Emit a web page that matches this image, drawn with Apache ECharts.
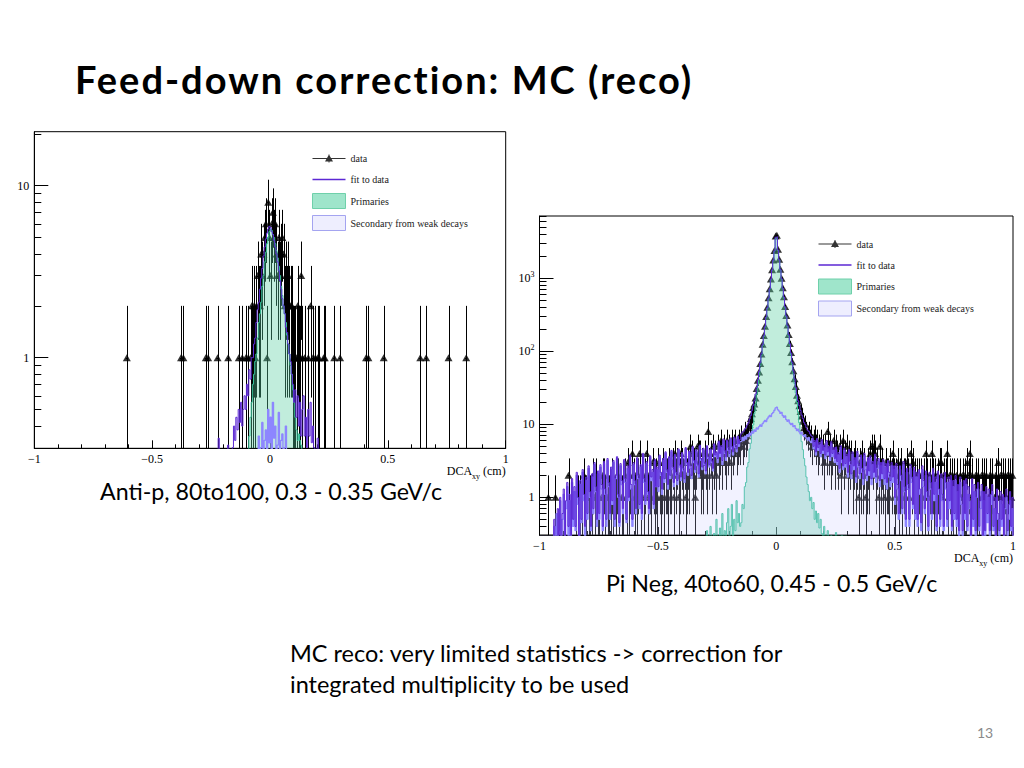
<!DOCTYPE html>
<html><head><meta charset="utf-8">
<script src="https://cdn.jsdelivr.net/npm/echarts@6/dist/echarts.min.js"></script>
<style>
html,body{margin:0;padding:0;background:#fff;width:1024px;height:768px;overflow:hidden;}
#chart{position:absolute;left:0;top:0;width:1024px;height:768px;}
.t{position:absolute;white-space:nowrap;font-family:Lato,'Open Sans',sans-serif;color:#000;}
</style></head><body>
<div id="chart"></div>
<div class="t" style="left:75px;top:60px;font-size:38px;line-height:38px;font-weight:bold;letter-spacing:2px;">Feed-down correction: MC (reco)</div>
<div class="t" style="left:100px;top:480px;font-size:23.2px;line-height:23px;">Anti-p, 80to100, 0.3 - 0.35 GeV/c</div>
<div class="t" style="left:606px;top:572px;font-size:23.2px;line-height:23px;">Pi Neg, 40to60, 0.45 - 0.5 GeV/c</div>
<div class="t" style="left:290px;top:642px;font-size:23.5px;line-height:23px;">MC reco: very limited statistics -&gt; correction for</div>
<div class="t" style="left:290px;top:673px;font-size:23.5px;line-height:23px;">integrated multiplicity to be used</div>
<div class="t" style="left:977px;top:726px;font-size:14px;line-height:14px;color:#8a8a8a;">13</div>
<script>
// ---------------- data ----------------
const BIN = 0.005;
const xTickValues = [-1, -0.5, 0, 0.5, 1];
const legendNames = ['data', 'fit to data', 'Primaries', 'Secondary from weak decays'];

// Left panel: Anti-p
const leftYLabelValues = [1, 10];
const leftYMinorValues = [0.4,0.5,0.6,0.7,0.8,0.9,2,3,4,5,6,7,8,9,20];
const leftDataX = [-0.6075,-0.3775,-0.3675,-0.2725,-0.2625,-0.2225,-0.1775,-0.1325,-0.1175,-0.1025,
  -0.0925,-0.0825,-0.0775,-0.0725,-0.0675,-0.0625,-0.0575,-0.0525,-0.0475,-0.0425,
  -0.0375,-0.0325,-0.0275,-0.0225,-0.0175,-0.0125,-0.0075,-0.0025,0.0025,0.0075,
  0.0125,0.0175,0.0225,0.0275,0.0325,0.0375,0.0425,0.0475,0.0525,0.0575,
  0.0625,0.0675,0.0725,0.0775,0.0825,0.0875,0.0925,0.0975,0.1025,0.1075,
  0.1125,0.1175,0.1225,0.1275,0.1325,0.1375,0.1475,0.1625,0.1725,0.1825,
  0.1925,0.2025,0.2075,0.2275,0.2325,0.2725,0.2975,0.4075,0.4175,0.4825,
  0.6375,0.6625,0.7575,0.8325];
const leftDataN = [1,1,1,1,1,1,1,1,1,1,
  1,1,2,1,2,1,2,3,2,2,
  4,3,4,5,6,1,8,5,3,6,
  7,5,6,4,3,5,3,4,5,4,
  2,3,2,3,2,2,2,1,1,1,
  1,2,1,1,3,1,1,1,2,1,
  1,1,1,1,1,1,1,1,1,1,
  1,1,1,1];
const leftPrimStart = -0.0875;
const leftPrim = [0.35,0.45,0.55,0.7,0.8,0.95,1.05,1.3,1.6,1.8,
  2.1,2.6,3.0,3.6,4.1,4.6,5.0,5.4,5.6,5.5,
  5.2,5.0,4.6,4.2,3.8,3.4,3.0,2.6,2.3,2.0,
  1.8,1.6,1.35,1.2,1.05,0.9,0.8,0.65,0.55,0.45,
  0.38,0.33,0.36,0.33,0.31];
const leftSecStart = -0.0475;
const leftSec = [0.35,0,0.3,0.42,0,0.33,0.38,0,0.5,0.32,
  0.45,0,0.55,0.34,0.4,0,0.31,0.48,0,0.33,
  0.36,0,0.3,0.4];
const leftFitStart = -0.2275;
const leftFit = [0,0,0.34,0,0,0,0,0,0,0,
  0.31,0,0,0,0.3,0.4,0.33,0.45,0.38,0.5,
  0.42,0.55,0.4,0.5,0.6,0.5,0.7,0.6,0.85,0.75,
  1.0,1.0,1.2,1.3,1.6,1.9,2.1,2.5,2.9,3.3,
  3.9,4.4,4.9,5.3,5.6,5.8,5.7,5.4,5.2,4.8,
  4.4,4.0,3.6,3.2,2.8,2.5,2.2,2.0,1.8,1.5,
  1.4,1.2,1.05,0.95,0.8,0.7,0.55,0.65,0.45,0.6,
  0.4,0.55,0.35,0.5,0.6,0.35,0.45,0.3,0.5,0.35,
  0.55,0.32,0.4,0.3,0,0,0.34,0,0];

// Right panel: Pi Neg
const rightYLabelValues = [1, 10, 100, 1000];
const rightYMinorValues = [0.4,0.5,0.6,0.7,0.8,0.9,2,3,4,5,6,7,8,9,20,30,40,50,60,70,80,90,
  200,300,400,500,600,700,800,900,2000,3000,4000,5000,6000,7000];
const rightDataStart = -0.9975;
const rightData = [
  0,0,0,0,0,0,0,1,0,0, 0,0,0,1,0,0,0,0,0,0, 0,0,0,0,2,0,0,0,0,0, 1,0,1,0,1,1,0,2,1,1, 0,1,1,0,1,2,1,2,0,1,
  1,0,1,2,2,1,0,1,1,0, 1,2,1,0,1,2,2,1,0,1, 1,0,2,1,3,1,2,0,4,2, 1,2,1,2,4,1,2,0,1,2, 4,1,2,2,1,3,2,1,2,1,
  3,2,1,2,3,1,2,2,1,3, 2,2,3,1,4,2,3,1,2,4, 3,2,3,1,2,3,2,5,4,2, 3,1,3,5,4,4,2,3,2,4, 3,2,8,3,4,2,5,3,4,2,
  5,3,4,6,3,5,4,3,6,4, 5,3,6,4,5,6,4,5,6,5, 7,5,6,8,6,7,9,10,12,14, 17,19,23,31,40,52,68,92,125,165, 220,300,400,540,720,980,1310,1780,2400,3800,
  3900,2500,1820,1330,1000,740,560,410,310,230, 170,128,96,72,54,42,33,25,21,18, 15,13,11,9,10,8,7,8,6,7, 5,6,7,5,6,4,5,6,4,5, 3,5,4,8,4,5,3,4,6,3,
  5,4,3,5,2,4,6,3,4,5, 2,4,3,4,2,3,4,2,3,1, 3,2,4,2,3,1,2,3,2,4, 5,3,5,4,2,3,1,5,2,3, 2,1,3,2,2,1,3,2,4,2,
  1,2,3,1,2,3,1,2,2,1, 3,2,1,4,2,3,1,2,2,1, 2,0,2,1,2,1,4,2,1,2, 1,4,2,1,2,1,2,1,3,3, 1,2,0,2,4,1,2,1,2,1,
  2,1,2,1,0,2,1,2,1,2, 1,3,2,4,1,2,0,1,2,1, 2,1,0,2,1,2,1,2,0,1, 2,1,2,0,1,2,1,3,1,2, 0,2,1,2,1,2,1,2,1,2];
const rightPrimStart = -0.2975;
const rightPrim = [
  0,0.35,0,0,0.4,0,0,0.32,0,0.5, 0,0,0.38,0,0.6,0,0.35,0,0.45,0.7, 0,0.4,0.8,0,0.5,0.35,0.9,0.45,0.6,0.4,
  0.45,0.8,0.7,1.4,1.6,2.6,3.0,4.6,5.5,7.5, 9.8,14,19,26,35,47,64,87,118,158, 213,288,388,525,705,955,1280,1740,2350,3500,
  3600,2400,1780,1300,970,720,535,395,295,218, 160,120,89,66,49,36,27,20,14.5,10.5, 7.8,5.8,4.5,3.4,2.7,1.9,1.5,1.2,0.9,1.0,
  0.7,0.85,0.5,0.65,0.45,0.6,0.38,0.5,0.32,0, 0.4,0,0,0.35,0,0,0.3,0,0,0, 0.33,0,0,0,0,0.3,0,0,0,0];
const rightSecStart = -0.9975;
const rightSec = [
  0,0,0,0,0,0,0,0,0,0, 0,0,0.4,0,0.6,0,0.35,0.9,0,0.5, 1.1,0,0.7,1.4,0.3,0.9,0,1.6,0.4,1.2, 0.35,2.0,0.8,0,1.5,0.45,2.2,0.9,0.3,1.7, 0.5,2.5,1.0,0.35,1.9,0.6,2.8,1.2,0.4,2.1,
  0.5,2.6,1.3,0.35,2.9,1.1,0.4,3.2,1.4,0.5, 2.4,0.8,3.0,0.4,1.8,3.4,1.0,0.4,2.7,1.5, 0.6,3.1,1.6,0.45,2.5,0.9,3.6,1.3,0.4,2.8, 1.5,0.6,3.3,1.8,0.7,2.6,0.5,3.8,1.6,0.8, 2.9,1.1,0.6,3.5,1.7,2.2,0.7,3.1,1.4,2.4,
  1.2,3.6,2.0,1.1,3.2,1.6,4.0,2.2,1.3,3.4, 1.8,4.2,2.4,1.4,3.7,2.0,1.5,4.4,2.6,1.7, 3.9,2.3,1.6,4.6,2.8,2.0,4.1,2.5,1.8,4.8, 3.0,2.2,4.3,2.7,1.9,5.0,3.2,2.4,4.5,2.8, 2.1,4.9,3.4,2.6,4.4,3.0,2.3,5.2,3.6,4.0,
  3.0,5.6,3.6,4.8,2.8,6.0,4.0,3.2,5.8,4.4, 3.6,6.2,4.6,3.8,6.4,4.8,4.2,6.6,5.0,5.8, 5.9,6.6,6.0,6.9,6.3,7.2,6.8,7.6,7.1,8.0, 7.6,8.4,8.0,8.9,8.6,9.3,9.8,9.4,10.2,10.8, 11.3,10.9,11.9,12.6,13.2,12.8,14.0,14.6,15.6,16.8,
  17.2,15.8,15.2,14.1,14.6,13.2,12.5,13.0,11.6,11.0, 11.5,10.4,9.9,10.3,9.3,9.6,8.8,8.2,8.6,7.9, 7.4,7.8,7.1,6.8,7.2,6.5,6.1,6.6,5.9,5.6, 6.4,4.6,5.6,3.8,6.0,4.4,5.2,3.6,5.8,4.0, 4.8,3.4,5.6,3.8,4.6,3.2,5.4,3.6,4.4,3.0,
  4.6,2.8,3.8,2.2,4.8,3.0,2.4,4.4,2.6,3.6, 1.9,4.2,2.8,1.8,3.9,2.4,3.2,1.6,4.0,2.6, 1.8,3.5,2.2,1.5,3.7,2.4,1.7,3.2,2.0,3.4, 1.5,2.8,1.9,3.6,1.6,2.5,3.1,1.4,2.7,1.8, 3.0,1.5,2.6,1.3,2.9,1.9,1.4,2.7,1.6,2.4,
  0.8,2.6,1.3,0.5,2.4,1.7,0.6,2.8,1.2,0.4, 2.2,1.3,0.4,2.5,1.6,0.7,2.3,0.5,1.9,0.4, 2.1,1.1,0.35,2.4,1.4,0.6,2.0,1.0,0.35,1.9, 1.3,0.5,2.2,0.9,1.6,0.35,2.0,1.1,0.4,1.8, 0.9,0.35,1.9,1.3,0.4,1.6,0.7,1.7,0.35,1.4,
  0.5,1.7,0.4,1.2,0,1.6,0.8,0,1.4,0.5, 1.5,0.35,1.1,0.7,0,1.5,0.4,1.2,0,1.0, 1.3,0.35,0.7,1.2,0,0.9,0,1.1,0.45,1.0, 0,0.8,1.2,0.35,0.7,0,1.0,0.5,0,0.9, 0.4,0.8,0,0.7,1.0,0,0.5,0.9,0.35,0.7];
const rightFitStart = -0.9975;
const rightFit = [
  0,0,0,0,0,0,0,0,0,0, 0,0,0.5,0,0,0.7,0,1.0,0,0.6, 1.3,0,0.9,1.6,0.4,1.1,0,1.8,0.5,1.4, 0.4,2.2,1.0,0,1.7,0.5,2.4,1.1,0.4,1.9, 0.6,2.7,1.2,0.4,2.1,0.7,3.0,1.4,0.5,2.3,
  0.6,2.8,1.5,0.4,3.1,1.3,0.5,3.4,1.6,0.6, 2.6,0.9,3.2,0.5,2.0,3.6,1.1,0.45,2.9,1.7, 0.7,3.3,1.8,0.5,2.7,1.0,3.8,1.5,0.5,3.0, 1.7,0.7,3.5,2.0,0.8,2.8,0.6,4.0,1.8,0.9, 3.1,1.2,0.7,3.7,1.9,2.4,0.8,3.3,1.4,2.6,
  1.4,3.8,2.2,1.3,3.4,1.8,4.2,2.4,1.5,3.6, 2.0,4.4,2.6,1.6,3.9,2.2,1.7,4.6,2.8,1.9, 4.1,2.5,1.8,4.8,3.0,2.2,4.3,2.7,2.0,5.0, 3.2,2.4,4.5,2.9,2.1,5.2,3.4,2.6,4.7,3.0, 2.3,5.1,3.6,2.8,4.6,3.2,2.5,5.4,3.8,4.2,
  3.4,5.9,4.0,5.1,3.2,6.3,4.4,3.6,6.1,4.8, 4.0,6.5,5.0,4.2,6.7,5.2,4.6,6.9,5.4,6.2, 7.4,7.9,8.0,8.6,9.0,9.8,10.5,11.8,13.2,15.4, 18,21,26,32,41,53,70,93,124,165, 220,296,398,535,718,975,1300,1770,2380,3650,
  3700,2450,1800,1320,990,735,555,408,306,228, 170,127,95,71,54,42,32,25,21,18, 15.5,13.4,12.0,10.6,9.9,9.0,8.3,8.0,7.4,7.0, 6.8,5.0,6.0,4.2,6.4,4.8,5.6,4.0,6.2,4.4, 5.2,3.8,6.0,4.2,5.0,3.6,5.8,4.0,4.8,3.4,
  4.9,3.1,4.1,2.5,5.1,3.3,2.7,4.7,2.9,3.9, 2.2,4.5,3.1,2.1,4.2,2.7,3.5,1.9,4.3,2.9, 2.1,3.8,2.5,1.8,4.0,2.7,2.0,3.5,2.3,3.7, 1.8,3.1,2.2,3.9,1.9,2.8,3.4,1.7,3.0,2.1, 3.3,1.8,2.9,1.6,3.2,2.2,1.7,3.0,1.9,2.7,
  1.0,2.9,1.5,0.6,2.7,2.0,0.7,3.1,1.4,0.5, 2.5,1.5,0.5,2.8,1.9,0.8,2.6,0.6,2.2,0.5, 2.4,1.3,0.45,2.7,1.7,0.7,2.3,1.2,0.4,2.2, 1.6,0.6,2.5,1.1,1.9,0.4,2.3,1.3,0.5,2.1, 1.1,0.4,2.2,1.6,0.5,1.9,0.9,2.0,0.4,1.7,
  0.6,2.0,0.5,1.5,0.35,1.9,1.0,0.35,1.7,0.6, 1.8,0.4,1.4,0.9,0,1.8,0.5,1.5,0.35,1.3, 1.6,0.4,0.9,1.5,0,1.2,0.35,1.4,0.6,1.3, 0.35,1.1,1.5,0.4,1.0,0,1.3,0.6,0.35,1.2, 0.5,1.1,0,1.0,1.3,0.35,0.8,1.2,0.4,1.0];

// ---------------- builders ----------------
const FLOOR = 1e-3; // empty bins drawn below the log-axis minimum (clipped)
function histLine(start, vals) {
  const e0 = start - BIN / 2;
  const pts = [[e0, FLOOR]];
  vals.forEach((v, i) => pts.push([e0 + i * BIN, v > 0 ? v : FLOOR]));
  const last = vals[vals.length - 1];
  pts.push([e0 + vals.length * BIN, last > 0 ? last : FLOOR]);
  pts.push([e0 + vals.length * BIN, FLOOR]);
  return pts;
}
function pairs(xs, ns) { return xs.map((x, i) => [x, ns[i]]).filter(p => p[1] > 0); }
function binned(start, ns) { return ns.map((n, i) => [start + i * BIN, n]).filter(p => p[1] > 0); }

const SERIF = "'Liberation Serif','DejaVu Serif',serif";
const C_PRIM_LINE = '#35c197', C_PRIM_FILL = 'rgba(89,208,160,0.53)';
const C_SEC_LINE = '#8d86ff', C_SEC_FILL = 'rgba(200,200,255,0.35)';
const C_FIT = '#5c28d4';

function panelSeries(gi, pts, ymin, prim, sec, fit) {
  const xi = gi, yi = gi * 2;
  return [
    { type: 'custom', name: 'err' + gi, xAxisIndex: xi, yAxisIndex: yi, z: 2, silent: true, clip: true,
      data: pts, encode: { x: 0, y: 1 },
      renderItem(params, api) {
        const x = api.value(0), n = api.value(1), e = Math.sqrt(n);
        const lo = Math.max(n - e, ymin), hi = n + e;
        const a = api.coord([x, hi]), b = api.coord([x, lo]);
        const l = api.coord([x - BIN / 2, n]), r = api.coord([x + BIN / 2, n]);
        const sx = Math.round(a[0]) + 0.5, sy = Math.round(l[1]) + 0.5;
        return { type: 'group', children: [
          { type: 'line', shape: { x1: sx, y1: a[1], x2: sx, y2: b[1] }, style: { stroke: '#000', lineWidth: 1 } },
          { type: 'line', shape: { x1: l[0] - 0.5, y1: sy, x2: r[0] + 0.5, y2: sy }, style: { stroke: '#000', lineWidth: 1 } }
        ]};
      } },
    { type: 'scatter', name: 'data', xAxisIndex: xi, yAxisIndex: yi, z: 2, silent: true,
      symbol: 'triangle', symbolSize: [8, 7], itemStyle: { color: '#000' }, data: pts },
    { type: 'line', name: 'Primaries', xAxisIndex: xi, yAxisIndex: yi, z: 3, silent: true, step: 'end',
      symbol: 'none', showSymbol: false, clip: true, data: histLine(prim[0], prim[1]),
      lineStyle: { color: C_PRIM_LINE, width: 1 }, areaStyle: { color: C_PRIM_FILL, origin: 'start' } },
    { type: 'line', name: 'Secondary from weak decays', xAxisIndex: xi, yAxisIndex: yi, z: 4, silent: true, step: 'end',
      symbol: 'none', showSymbol: false, clip: true, data: histLine(sec[0], sec[1]),
      lineStyle: { color: C_SEC_LINE, width: 1.3 }, areaStyle: { color: C_SEC_FILL, origin: 'start' } },
    { type: 'line', name: 'fit to data', xAxisIndex: xi, yAxisIndex: yi, z: 5, silent: true, step: 'end',
      symbol: 'none', showSymbol: false, clip: true, data: histLine(fit[0], fit[1]),
      lineStyle: { color: C_FIT, width: 1 } }
  ];
}

function xAxisCfg(gi) {
  return { gridIndex: gi, type: 'value', min: -1, max: 1, interval: 0.5,
    axisLine: { show: true, onZero: false, lineStyle: { color: '#000', width: 1 } },
    axisTick: { show: true, inside: true, length: 8, lineStyle: { color: '#000' } },
    minorTick: { show: true, splitNumber: 5, length: 4, lineStyle: { color: '#000' } },
    splitLine: { show: false }, minorSplitLine: { show: false },
    axisLabel: { fontFamily: SERIF, fontSize: 12, color: '#000', margin: 5,
      formatter: v => xTickValues.indexOf(v) < 0 ? '' : (v < 0 ? '\u2212' + (-v) : String(v)) },
    name: 'DCA{sub|xy} (cm)', nameLocation: 'end', nameGap: 0, nameMoveOverlap: false,
    nameTextStyle: { fontFamily: SERIF, fontSize: 12, color: '#000', align: 'right', verticalAlign: 'top',
      padding: [14, 0, 0, 0],
      rich: { sub: { fontFamily: SERIF, fontSize: 8, verticalAlign: 'bottom', lineHeight: 18 } } }
  };
}
function yAxesCfg(gi, ymin, ymax, labelVals, minorVals) {
  const base = { gridIndex: gi, type: 'log', logBase: 10, min: ymin, max: ymax, position: 'left', offset: 0,
    splitLine: { show: false }, minorTick: { show: false }, minorSplitLine: { show: false } };
  return [
    Object.assign({}, base, {
      axisLine: { show: true, onZero: false, lineStyle: { color: '#000', width: 1 } },
      axisTick: { show: true, inside: true, length: 14, customValues: labelVals, lineStyle: { color: '#000' } },
      axisLabel: { show: true, customValues: labelVals, fontFamily: SERIF, fontSize: 12, color: '#000', margin: 5,
        formatter: v => { const p = Math.round(Math.log10(v)); return p <= 1 ? String(Math.round(v)) : '10{sup|' + p + '}'; },
        rich: { sup: { fontFamily: SERIF, fontSize: 8, verticalAlign: 'top', lineHeight: 16 } } }
    }),
    Object.assign({}, base, {
      axisLine: { show: false, onZero: false },
      axisTick: { show: true, inside: true, length: 7, customValues: minorVals, lineStyle: { color: '#000' } },
      axisLabel: { show: false }
    })
  ];
}

function icon(kind) {
  const corners = 'M0 0h0.01v0.01H0Z M32.99 14.99h0.01v0.01h-0.01Z ';
  if (kind === 'data') return 'path://' + corners + 'M0 7H33V8H0Z M16 3.5H17V11.5H16Z M12.5 10.5L16.5 3.5L20.5 10.5Z';
  return 'path://' + corners + 'M0 6.7H33V8.3H0Z';
}
function legendCfg(left, top) {
  return { left: left, top: top, orient: 'vertical', padding: 0, itemWidth: 33, itemHeight: 15, itemGap: 6,
    selectedMode: false, textStyle: { fontFamily: SERIF, fontSize: 10, color: '#222' },
    data: [
      { name: legendNames[0], icon: icon('data'), itemStyle: { color: '#000', borderWidth: 0 } },
      { name: legendNames[1], icon: icon('line'), itemStyle: { color: C_FIT, borderWidth: 0 } },
      { name: legendNames[2], icon: 'rect', itemStyle: { color: '#9fe5cb', borderColor: '#6fd0aa', borderWidth: 1 } },
      { name: legendNames[3], icon: 'rect', itemStyle: { color: '#eeeefe', borderColor: '#a4a4f0', borderWidth: 1 } }
    ] };
}

const LMIN = 0.297, LMAX = 20.6, RMIN = 0.305, RMAX = 7130;
const chart = echarts.init(document.getElementById('chart'), null, { renderer: 'svg' });
chart.setOption({
  animation: false,
  backgroundColor: '#fff',
  grid: [
    { left: 34.3, top: 131.7, width: 471.4, height: 316.6, show: true, borderColor: '#000', borderWidth: 1, backgroundColor: 'transparent', outerBoundsMode: 'none' },
    { left: 539.5, top: 216, width: 473.5, height: 319, show: true, borderColor: '#000', borderWidth: 1, backgroundColor: 'transparent', outerBoundsMode: 'none' }
  ],
  xAxis: [xAxisCfg(0), xAxisCfg(1)],
  yAxis: yAxesCfg(0, LMIN, LMAX, leftYLabelValues, leftYMinorValues)
    .concat(yAxesCfg(1, RMIN, RMAX, rightYLabelValues, rightYMinorValues)),
  legend: [legendCfg(312, 151), legendCfg(818, 236.5)],
  series: panelSeries(0, pairs(leftDataX, leftDataN), LMIN,
      [leftPrimStart, leftPrim], [leftSecStart, leftSec], [leftFitStart, leftFit])
    .concat(panelSeries(1, binned(rightDataStart, rightData), RMIN,
      [rightPrimStart, rightPrim], [rightSecStart, rightSec], [rightFitStart, rightFit]))
});
</script>
</body></html>
